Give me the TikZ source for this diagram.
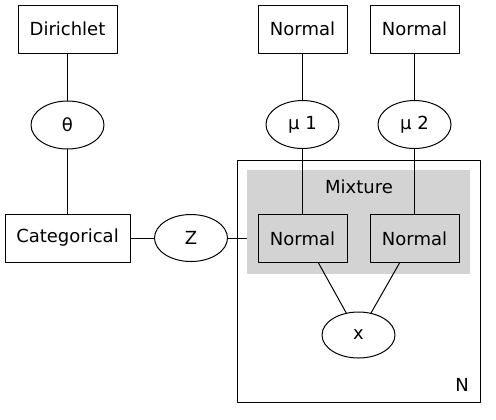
\documentclass[tikz,border=0pt]{standalone}
\usepackage{fontspec}
\setmainfont{DejaVu Sans}
\usetikzlibrary{shapes.geometric}
\usetikzlibrary{positioning}

\definecolor{mixgray}{RGB}{211,211,211}
\tikzset{
  dist/.style={draw,rectangle,minimum height=36pt,inner sep=2pt,font=\fontsize{13.5}{16}\selectfont},
  rv/.style={draw,ellipse,minimum width=54.75pt,minimum height=36pt,inner sep=0pt,font=\fontsize{13.5}{16}\selectfont},
  lbl/.style={inner sep=0pt,font=\fontsize{13.5}{16}\selectfont}
}

\begin{document}
\begin{tikzpicture}[line cap=round,line join=round,line width=0.75pt,x=0.75pt,y=-0.75pt]
\useasboundingbox (0,0) rectangle (496,419);
% plate and mixture cluster
\node[draw,minimum width=182.25pt,minimum height=181.5pt,inner sep=0pt] (plate) at (358.5,281) {};
\node[fill=mixgray,minimum width=167.25pt,minimum height=78pt,inner sep=0pt] (mix) at (358.5,222) {};
\node[lbl] (mixlbl) at (359,187) {Mixture};
\node[lbl] (nlbl) at (462,385) {N};
% priors
\node[dist,minimum width=74.25pt] (dirichlet) at (67.5,29) {Dirichlet};
\node[dist,minimum width=66.75pt] (norma) at (302.5,29) {Normal};
\node[dist,minimum width=66.75pt] (normb) at (414.5,29) {Normal};
% parameters
\node[rv] (theta) at (67.5,125) {θ};
\node[rv] (mua) at (302.5,124.5) {μ 1};
\node[rv] (mub) at (414.5,124.5) {μ 2};
\node[dist,minimum width=93.75pt] (cat) at (67.5,238) {Categorical};
\node[rv,minimum height=35.25pt] (z) at (191,238) {Z};
% mixture components
\node[dist,fill=mixgray,minimum width=66.75pt] (compa) at (302.5,238.5) {Normal};
\node[dist,fill=mixgray,minimum width=66.75pt] (compb) at (414.5,238.5) {Normal};
\node[rv,minimum height=34.5pt] (x) at (358.5,335) {x};
% edges
\draw (dirichlet) -- (theta);
\draw (theta) -- (cat);
\draw (cat) -- (z);
\draw (z) -- (z -| mix.west);
\draw (norma) -- (mua);
\draw (normb) -- (mub);
\draw (mua) -- (compa);
\draw (mub) -- (compb);
\draw (compa.south east) ++(-29,0) coordinate (ca) -- (x);
\draw (compb.south west) ++(30,0) coordinate (cb) -- (x);
\end{tikzpicture}
\end{document}
